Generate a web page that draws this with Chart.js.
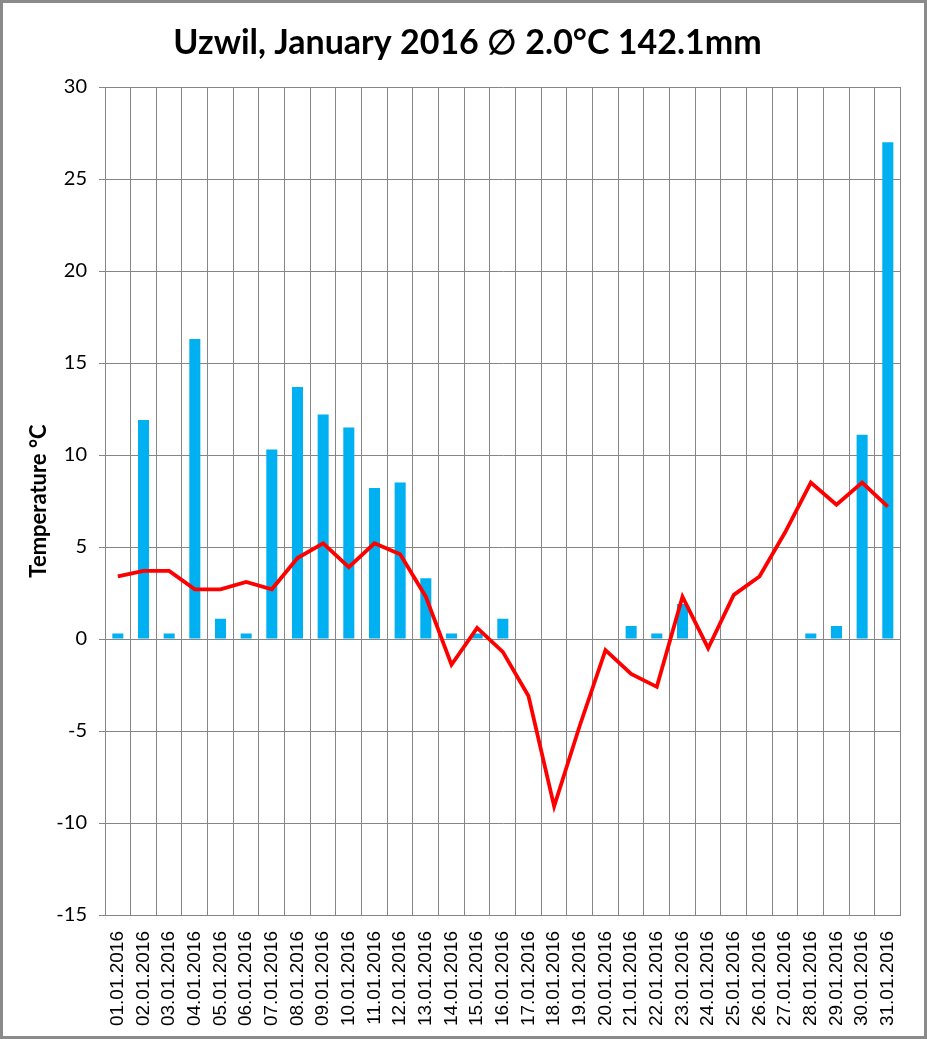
<!DOCTYPE html>
<html>
<head>
<meta charset="utf-8">
<script src="https://cdn.jsdelivr.net/npm/chart.js@4"></script>
<style>
  html, body { margin: 0; padding: 0; background: #fff; }
  #wrap { width: 927px; height: 1039px; position: relative; }
</style>
</head>
<body>
<div id="wrap"><canvas id="myChart" width="927" height="1039"></canvas></div>
<script>
// days of the month
const days = [
  '01.01.2016', '02.01.2016', '03.01.2016', '04.01.2016', '05.01.2016', '06.01.2016',
  '07.01.2016', '08.01.2016', '09.01.2016', '10.01.2016', '11.01.2016', '12.01.2016',
  '13.01.2016', '14.01.2016', '15.01.2016', '16.01.2016', '17.01.2016', '18.01.2016',
  '19.01.2016', '20.01.2016', '21.01.2016', '22.01.2016', '23.01.2016', '24.01.2016',
  '25.01.2016', '26.01.2016', '27.01.2016', '28.01.2016', '29.01.2016', '30.01.2016',
  '31.01.2016'
];
// daily precipitation, mm
const rain = [
  0.3, 11.9, 0.3, 16.3, 1.1, 0.3, 10.3, 13.7, 12.2, 11.5, 8.2, 8.5,
  3.3, 0.3, 0.3, 1.1, 0, 0, 0, 0, 0.7, 0.3, 1.9, 0,
  0, 0, 0, 0.3, 0.7, 11.1, 27.0
];
// daily mean temperature, °C
const temp = [
  3.4, 3.7, 3.7, 2.7, 2.7, 3.1, 2.7, 4.4, 5.2, 3.9, 5.2, 4.6,
  2.3, -1.4, 0.6, -0.7, -3.1, -9.1, -4.7, -0.6, -1.9, -2.6, 2.3, -0.5,
  2.4, 3.4, 5.8, 8.5, 7.3, 8.5, 7.2
];
const yTicks = [-15, -10, -5, 0, 5, 10, 15, 20, 25, 30];

const gridGray = '#868686';

// white background + grey frame round the whole picture
const frame = {
  id: 'frame',
  beforeDraw(chart) {
    const c = chart.ctx;
    c.save();
    c.fillStyle = '#fff';
    c.fillRect(0, 0, chart.width, chart.height);
    c.restore();
  },
  afterDraw(chart) {
    const c = chart.ctx;
    c.save();
    c.strokeStyle = '#8a8a8a';
    c.lineWidth = 3;
    c.strokeRect(1.5, 1.5, chart.width - 3, chart.height - 3);
    c.restore();
  }
};

const myChartElem = document.getElementById('myChart').getContext('2d');
const myChart = new Chart(myChartElem, {
  type: 'bar',
  data: {
    labels: days,
    datasets: [{
      type: 'line',
      label: 'Temperature',
      data: temp,
      borderColor: '#ff0000',
      borderWidth: 3.8,
      pointRadius: 0,
      tension: 0,
      order: 0
    }, {
      type: 'bar',
      label: 'Precipitation',
      data: rain,
      backgroundColor: '#00b0f0',
      barPercentage: 0.43,
      categoryPercentage: 1,
      order: 1
    }]
  },
  options: {
    responsive: false,
    animation: false,
    devicePixelRatio: 1,
    layout: { padding: { left: 8, right: 0, top: 0, bottom: 0 } },
    plugins: {
      legend: { display: false },
      tooltip: { enabled: false },
      title: {
        display: true,
        text: 'Uzwil, January 2016 \u2205 2.0°C 142.1mm',
        color: '#000',
        font: { family: 'Lato', size: 34, weight: 'bold', lineHeight: 1.2 },
        padding: { top: 23, bottom: 23.2 }
      }
    },
    scales: {
      x: {
        grid: { color: gridGray, lineWidth: 1, drawTicks: false, offset: true },
        border: { color: gridGray, width: 1 },
        ticks: {
          color: '#000',
          minRotation: 90,
          maxRotation: 90,
          autoSkip: false,
          padding: 16,
          font: { family: 'Liberation Sans', size: 19 }
        },
        afterFit(scale) { scale.height = 124; }
      },
      y: {
        min: -15,
        max: 30,
        afterBuildTicks(scale) { scale.ticks = yTicks.map(v => ({ value: v })); },
        grid: { color: gridGray, lineWidth: 1, tickLength: 6 },
        border: { color: gridGray, width: 1 },
        ticks: {
          color: '#000',
          padding: 12,
          font: { family: 'Lato', size: 20 }
        },
        title: {
          display: true,
          text: 'Temperature °C',
          color: '#000',
          font: { family: 'Lato', size: 22, weight: 'bold' },
          padding: { top: 18, bottom: 0 }
        },
        afterFit(scale) { scale.width = 97; }
      },
      // empty right-hand axis, only keeps the right margin so the title stays centred
      yRight: {
        position: 'right',
        min: -15,
        max: 30,
        grid: { display: false },
        border: { display: false },
        ticks: { display: false },
        afterFit(scale) { scale.width = 25; }
      }
    }
  },
  plugins: [frame]
});
</script>
</body>
</html>
